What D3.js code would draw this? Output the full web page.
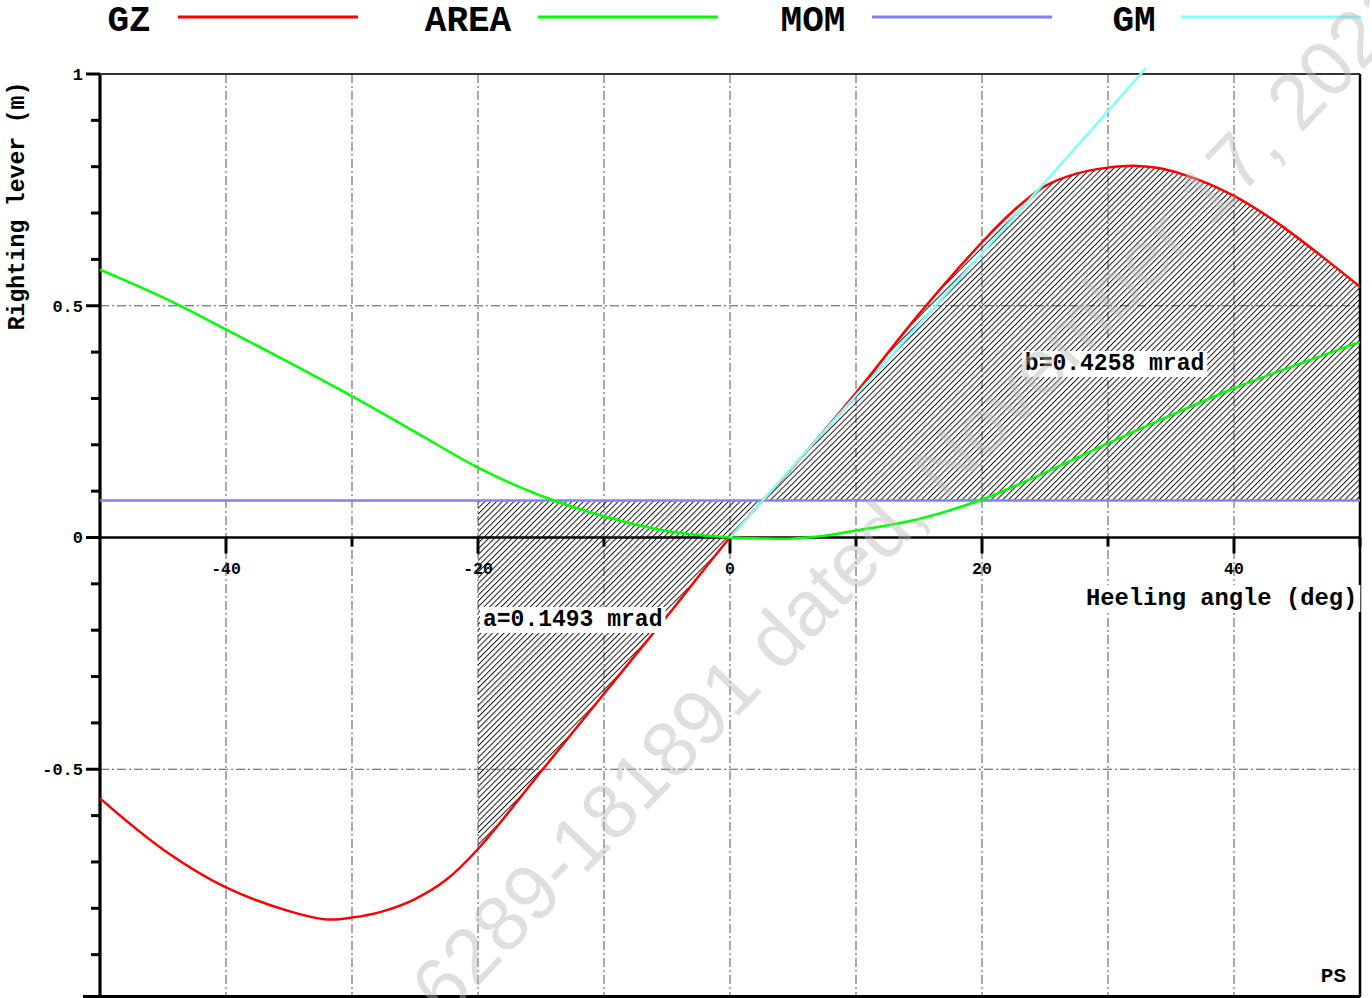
<!DOCTYPE html>
<html><head><meta charset="utf-8">
<script src="https://cdn.jsdelivr.net/npm/d3@7"></script>
<style>html,body{margin:0;padding:0;background:#fff;overflow:hidden}</style>
</head><body>
<script>
// ---- data ----
const gzAngles = [-50,-45,-40,-35,-32,-30,-27.5,-25,-22.5,-20,-15,-10,-5,0,5,10,15,20,22.5,25,27.5,30,32,34,36,38,40,42,44,47,50];
const gzValues = [-0.563,-0.673,-0.755,-0.806,-0.824,-0.820,-0.806,-0.780,-0.738,-0.672,-0.505,-0.337,-0.170,0,0.152,0.312,0.482,0.637,0.705,0.758,0.785,0.798,0.802,0.797,0.783,0.763,0.737,0.705,0.668,0.606,0.541];
const areaAngles = [-50,-45,-40,-35,-30,-25,-20,-15,-10,-5,0,2.5,5,7.5,10,15,20,25,30,35,40,45,50];
const areaValues = [0.578,0.518,0.449,0.378,0.305,0.228,0.151,0.090,0.046,0.014,0,-0.002,-0.002,0.004,0.015,0.040,0.082,0.140,0.203,0.264,0.322,0.373,0.422];
const momAngles = [-50,50];
const momValues = [0.08,0.08];
const gmAngles = [0,33];
const gmValues = [0,1.012];
const hatchFrom = -20;
const xTicksMajor = [-40,-20,0,20,40];
const xTicksMinor = [-30,-10,10,30,50];
const xGrid = [-40,-30,-20,-10,0,10,20,30,40];
const yTicksMajor = [1,0.5,0,-0.5];
const yTicksMinor = [0.9,0.8,0.7,0.6,0.4,0.3,0.2,0.1,-0.1,-0.2,-0.3,-0.4,-0.6,-0.7,-0.8,-0.9];
const yGrid = [0.5,-0.5];
const legendNames = ["GZ","AREA","MOM","GM"];
const legendColors = ["#ff0000","#00ff00","#8080ff","#80ffff"];
const labelA = "a=0.1493 mrad";
const labelB = "b=0.4258 mrad";
const xTitle = "Heeling angle (deg)";
const yTitle = "Righting lever (m)";
const corner = "PS";
const watermark = "6289-181891 dated, November 17, 2021";

// ---- layout ----
const W = 1372, H = 998;
const x = d3.scaleLinear().domain([-50,50]).range([100,1360]);
const y = d3.scaleLinear().domain([-1,1]).range([1001,74]);
const mono = "'Liberation Mono','Courier New',monospace";

const svg = d3.select("body").append("svg").attr("width",W).attr("height",H);
const defs = svg.append("defs");
const pat = defs.append("pattern").attr("id","hatch").attr("patternUnits","userSpaceOnUse")
  .attr("width",4.1).attr("height",10).attr("patternTransform","rotate(45)");
pat.append("line").attr("x1",0.5).attr("y1",0).attr("x2",0.5).attr("y2",10).attr("stroke","#000").attr("stroke-width",0.9);
defs.append("clipPath").attr("id","clip").append("rect").attr("x",100).attr("y",60).attr("width",1260).attr("height",940);

// grid
const g = svg.append("g");
g.selectAll(".vg").data(xGrid).join("line")
  .attr("x1",d=>x(d)).attr("x2",d=>x(d)).attr("y1",y(1)).attr("y2",997)
  .attr("stroke","#555").attr("stroke-width",1).attr("stroke-dasharray","9,3,2,3");
g.selectAll(".hg").data(yGrid).join("line")
  .attr("x1",x(-50)).attr("x2",x(50)).attr("y1",d=>y(d)).attr("y2",d=>y(d))
  .attr("stroke","#555").attr("stroke-width",1).attr("stroke-dasharray","9,3,2,3");

// hatched area between MOM and GZ
const curve = d3.curveCatmullRom.alpha(0.5);
const gzPts = gzAngles.map((a,i)=>[a,gzValues[i]]);
const hatchPts = gzPts.filter(p=>p[0]>=hatchFrom);
const momAt = a => momValues[0];
svg.append("path").datum(hatchPts)
  .attr("d", d3.area().x(d=>x(d[0])).y0(d=>y(momAt(d[0]))).y1(d=>y(d[1])).curve(curve))
  .attr("fill","url(#hatch)").attr("stroke","none");

// axes
const ax = svg.append("g");
ax.append("line").attr("x1",x(-50)).attr("x2",x(50)).attr("y1",y(0)).attr("y2",y(0)).attr("stroke","#000").attr("stroke-width",2.5);
ax.selectAll(".xt").data(xTicksMajor).join("line")
  .attr("x1",d=>x(d)).attr("x2",d=>x(d)).attr("y1",y(0)).attr("y2",y(0)+16).attr("stroke","#000").attr("stroke-width",3);
ax.selectAll(".xtm").data(xTicksMinor).join("line")
  .attr("x1",d=>x(d)).attr("x2",d=>x(d)).attr("y1",y(0)).attr("y2",y(0)+9).attr("stroke","#000").attr("stroke-width",3);
ax.selectAll(".xl").data(xTicksMajor).join("text")
  .attr("x",d=>x(d)).attr("y",y(0)+36).attr("text-anchor","middle")
  .attr("font-family",mono).attr("font-weight","bold").attr("font-size",16.5).text(d=>d);
ax.append("line").attr("x1",x(-50)).attr("x2",x(-50)).attr("y1",y(1)-1).attr("y2",997).attr("stroke","#000").attr("stroke-width",3.2);
ax.selectAll(".yt").data(yTicksMajor).join("line")
  .attr("x1",86).attr("x2",x(-50)).attr("y1",d=>y(d)).attr("y2",d=>y(d)).attr("stroke","#000").attr("stroke-width",3);
ax.selectAll(".ytm").data(yTicksMinor).join("line")
  .attr("x1",91).attr("x2",x(-50)).attr("y1",d=>y(d)).attr("y2",d=>y(d)).attr("stroke","#000").attr("stroke-width",3);
ax.selectAll(".yl").data(yTicksMajor).join("text")
  .attr("x",83).attr("y",d=>y(d)).attr("dy","0.35em").attr("text-anchor","end")
  .attr("font-family",mono).attr("font-weight","bold").attr("font-size",17).text(d=>d);
ax.append("line").attr("x1",x(-50)).attr("x2",x(50)).attr("y1",y(1)).attr("y2",y(1)).attr("stroke","#333").attr("stroke-width",2);
ax.append("line").attr("x1",x(50)).attr("x2",x(50)).attr("y1",y(1)).attr("y2",997).attr("stroke","#000").attr("stroke-width",2.5);
ax.append("line").attr("x1",83).attr("x2",x(50)).attr("y1",996.5).attr("y2",996.5).attr("stroke","#000").attr("stroke-width",3);

// curves
const line = d3.line().x(d=>x(d[0])).y(d=>y(d[1])).curve(curve);
const curves = svg.append("g").attr("clip-path","url(#clip)");
curves.append("path").datum(momAngles.map((a,i)=>[a,momValues[i]])).attr("d",line)
  .attr("fill","none").attr("stroke",legendColors[2]).attr("stroke-width",2.5);
curves.append("path").datum(gzPts).attr("d",line)
  .attr("fill","none").attr("stroke",legendColors[0]).attr("stroke-width",2.5);
curves.append("path").datum(areaAngles.map((a,i)=>[a,areaValues[i]])).attr("d",line)
  .attr("fill","none").attr("stroke",legendColors[1]).attr("stroke-width",2.5);
curves.append("path").datum(gmAngles.map((a,i)=>[a,gmValues[i]])).attr("d",d3.line().x(d=>x(d[0])).y(d=>y(d[1])))
  .attr("fill","none").attr("stroke",legendColors[3]).attr("stroke-width",2.5);

// labels with white background
function boxLabel(txt, lx, ly, size){
  const t = svg.append("text").attr("x",lx).attr("y",ly)
    .attr("font-family",mono).attr("font-weight","bold").attr("font-size",size).text(txt);
  const bb = t.node().getBBox();
  svg.insert("rect", function(){return t.node();}).attr("x",bb.x-3).attr("y",bb.y).attr("width",bb.width+6).attr("height",bb.height)
    .attr("fill","#fff");
  return t;
}
boxLabel(labelA, x(-20)+5, 626, 23);
boxLabel(labelB, x(23.4), 370, 23);
boxLabel(xTitle, 1086, 605, 23.8);

svg.append("text").attr("transform","translate(24,206) rotate(-90)").attr("text-anchor","middle")
  .attr("font-family",mono).attr("font-weight","bold").attr("font-size",23).text(yTitle);
svg.append("text").attr("x",1346).attr("y",982).attr("text-anchor","end")
  .attr("font-family",mono).attr("font-weight","bold").attr("font-size",21).text(corner);

// legend
const legCenters = [129,468,813,1134];
const legLineStart = [178,538,872,1181];
legendNames.forEach((n,i)=>{
  svg.append("text").attr("x",legCenters[i]).attr("y",31).attr("text-anchor","middle")
    .attr("font-family",mono).attr("font-weight","bold").attr("font-size",36).text(n);
  svg.append("line").attr("x1",legLineStart[i]).attr("x2",legLineStart[i]+180).attr("y1",17).attr("y2",17)
    .attr("stroke",legendColors[i]).attr("stroke-width",3);
});

// watermark
svg.append("text").attr("transform","translate(445,1020) rotate(-46)")
  .attr("font-family","'Liberation Sans',Arial,sans-serif").attr("font-size",78)
  .attr("fill","#b8b8b8").attr("fill-opacity",0.45).text(watermark);
</script>
</body></html>
